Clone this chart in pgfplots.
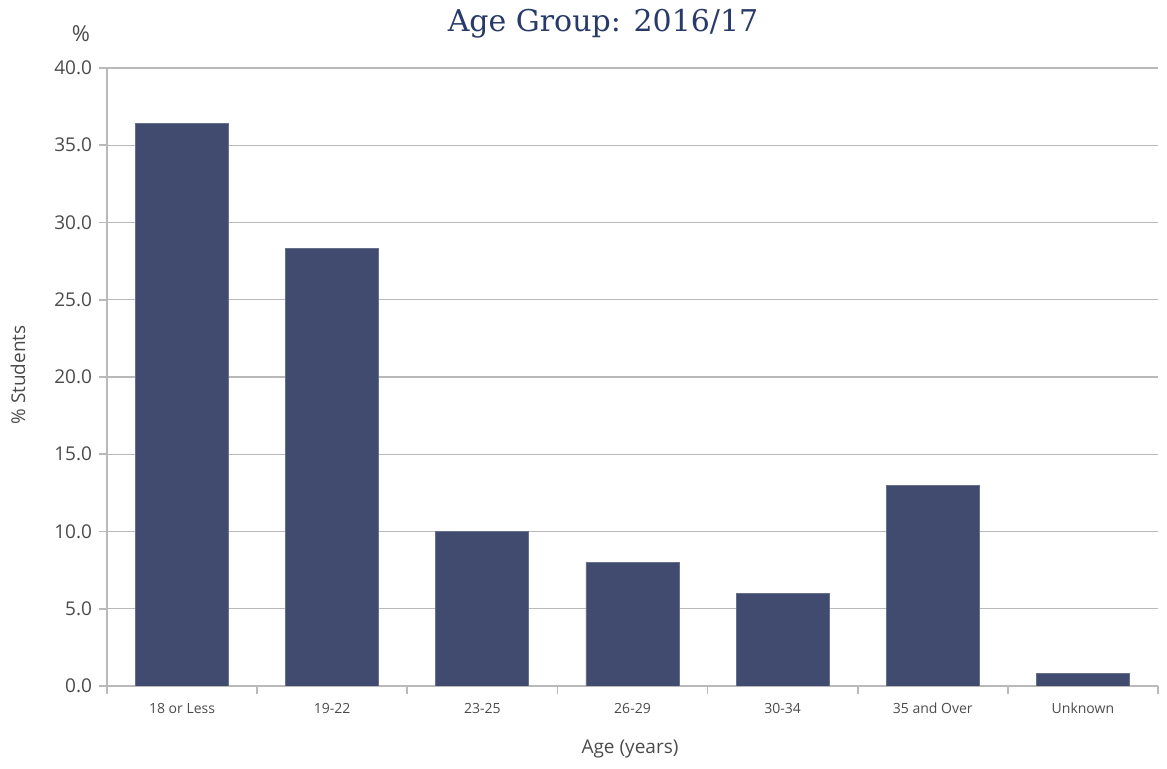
\documentclass[border=0pt]{standalone}
\usepackage{fontspec}
\setmainfont{Open Sans}
\newfontfamily\titlefont{DejaVu Serif}
\usepackage{pgfplots}
\pgfplotsset{compat=1.18}
\definecolor{barc}{RGB}{64,75,111}
\definecolor{titlec}{RGB}{40,58,104}
\definecolor{txt}{RGB}{75,75,75}
\definecolor{gridc}{RGB}{185,185,185}
\begin{document}
\begin{tikzpicture}[x=0.5pt,y=0.5pt]
\begin{axis}[
  name=ax,
  at={(0,0)}, anchor=south west,
  scale only axis,
  width=525.5pt, height=309pt,
  xmin=0.5, xmax=7.5, ymin=0, ymax=40,
  axis lines*=left,
  axis line style={draw=gridc, line width=0.8pt},
  ytick={0,5,...,40},
  yticklabel style={/pgf/number format/fixed, /pgf/number format/fixed zerofill, /pgf/number format/precision=1, font=\fontsize{9.5}{10}\selectfont, text=txt},
  /pgf/number format/assume math mode=true,
  ymajorgrids,
  grid style={draw=gridc, line width=0.7pt},
  tick style={draw=gridc, line width=0.8pt},
  tick align=outside,
  major tick length=4pt,
  xtick={1,...,7},
  xticklabels={18 or Less,19-22,23-25,26-29,30-34,35 and Over,Unknown},
  major x tick style={draw=none},
  extra x ticks={0.5,1.5,2.5,3.5,4.5,5.5,6.5,7.5},
  extra x tick labels={},
  extra x tick style={major x tick style={draw=gridc, line width=0.8pt}, grid=none},
  xticklabel style={font=\fontsize{7}{8}\selectfont, text=txt, yshift=-1pt},
  ]
\addplot[ybar, bar width=0.62, fill=barc, draw=barc!80!white, line width=0.4pt] coordinates {
  (1,36.4) (2,28.3) (3,10.0) (4,8.0) (5,6.0) (6,13.0) (7,0.8)
};
\end{axis}
\node[font=\titlefont\fontsize{15}{17}\selectfont, text=titlec] at (496,662) {Age Group: 2016/17};
\node[font=\fontsize{11}{12}\selectfont, text=txt] at (-26,652) {\%};
\node[font=\fontsize{9.5}{11}\selectfont, text=txt, rotate=90] at (-89,311) {\% Students};
\node[font=\fontsize{9.5}{11}\selectfont, text=txt] at (523,-63) {Age (years)};
\pgfresetboundingbox
\path (-107,-83) rectangle (1060,686);
\end{tikzpicture}
\end{document}
